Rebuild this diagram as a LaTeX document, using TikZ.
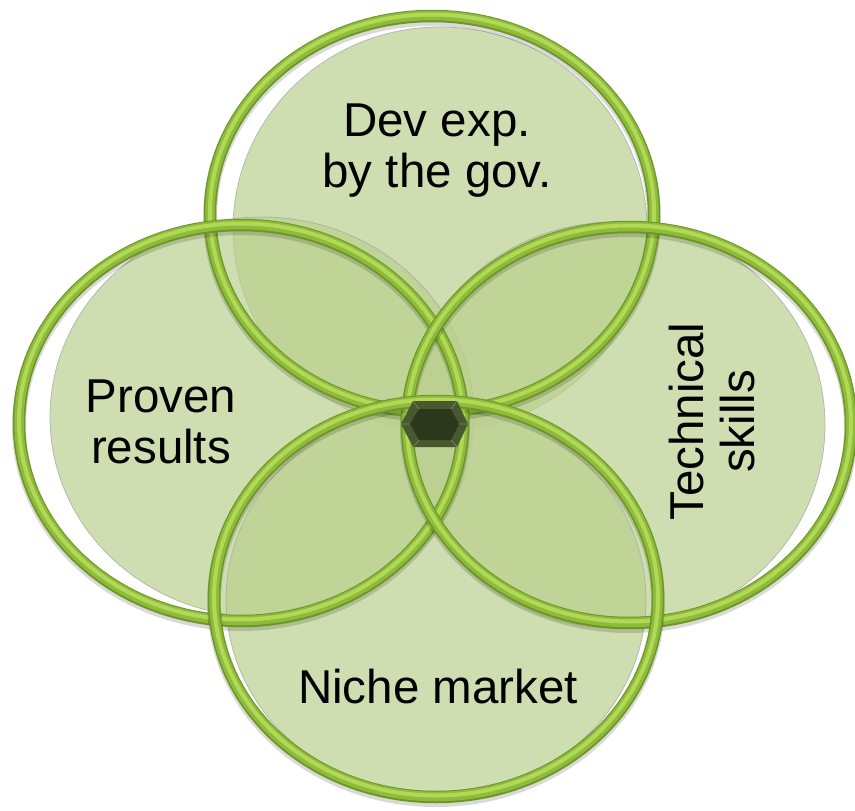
\documentclass[tikz,border=0pt]{standalone}
\usepackage{fontspec}
\setmainfont{Liberation Sans}
\definecolor{discgreen}{RGB}{186,208,142}
\definecolor{ringdark}{RGB}{108,150,40}
\definecolor{ringmain}{RGB}{142,188,58}
\definecolor{ringlight}{RGB}{178,216,88}
\definecolor{hexout}{RGB}{74,88,48}
\definecolor{hexin}{RGB}{44,56,28}
\begin{document}
\begin{tikzpicture}[x=1pt,y=-1pt,
  disc/.style={fill=discgreen, fill opacity=0.7, draw=gray!70, draw opacity=0.8, line width=0.7pt},
  ringshadow/.style={draw=black, draw opacity=0.15, line width=14pt},
  ringbase/.style={draw=ringdark, line width=12.5pt},
  ringmid/.style={draw=ringmain, line width=9.5pt},
  ringhl/.style={draw=ringlight, line width=4pt},
  label/.style={font=\fontsize{47.5}{51}\selectfont, align=center, inner sep=0pt, text=black}
]
\useasboundingbox (0,0) rectangle (855,811);
\newcommand\drawring[2]{%
  \path[ringshadow] (#1,#2+3) ellipse [x radius=222pt, y radius=198pt];
  \path[ringbase] (#1,#2) ellipse [x radius=222pt, y radius=198pt];
  \path[ringmid] (#1,#2-0.5) ellipse [x radius=222pt, y radius=198pt];
  \path[ringhl] (#1,#2-1.5) ellipse [x radius=222pt, y radius=198pt];
}
% discs
\path[disc] (440,229) ellipse [x radius=207pt, y radius=202pt];
\path[disc] (262,417) ellipse [x radius=212pt, y radius=200pt];
\path[disc] (615,425) ellipse [x radius=210pt, y radius=203pt];
\path[disc] (436,600) ellipse [x radius=210pt, y radius=195pt];
% rings
\drawring{432}{214}
\drawring{241}{423}
\drawring{629}{425}
\drawring{436}{599}
% hexagon
\fill[hexout] (401,424) -- (413,401) -- (457,401) -- (468,424) -- (457,447) -- (413,447) -- cycle;
\fill[hexin] (410,424) -- (419,409) -- (451,409) -- (459,424) -- (451,440) -- (419,440) -- cycle;
\draw[hexout!70!white, line width=0.6pt] (401,424) -- (410,424) (413,401) -- (419,409) (457,401) -- (451,409) (468,424) -- (459,424) (457,447) -- (451,440) (413,447) -- (419,440);
% labels
\node[label] (dev) at (437,151) {Dev exp.\\by the gov.};
\node[label] (proven) at (161,421.5) {Proven\\results};
\node[label, rotate=90] (tech) at (712,421.5) {Technical\\skills};
\node[label] (niche) at (438,687) {Niche market};
\end{tikzpicture}
\end{document}
